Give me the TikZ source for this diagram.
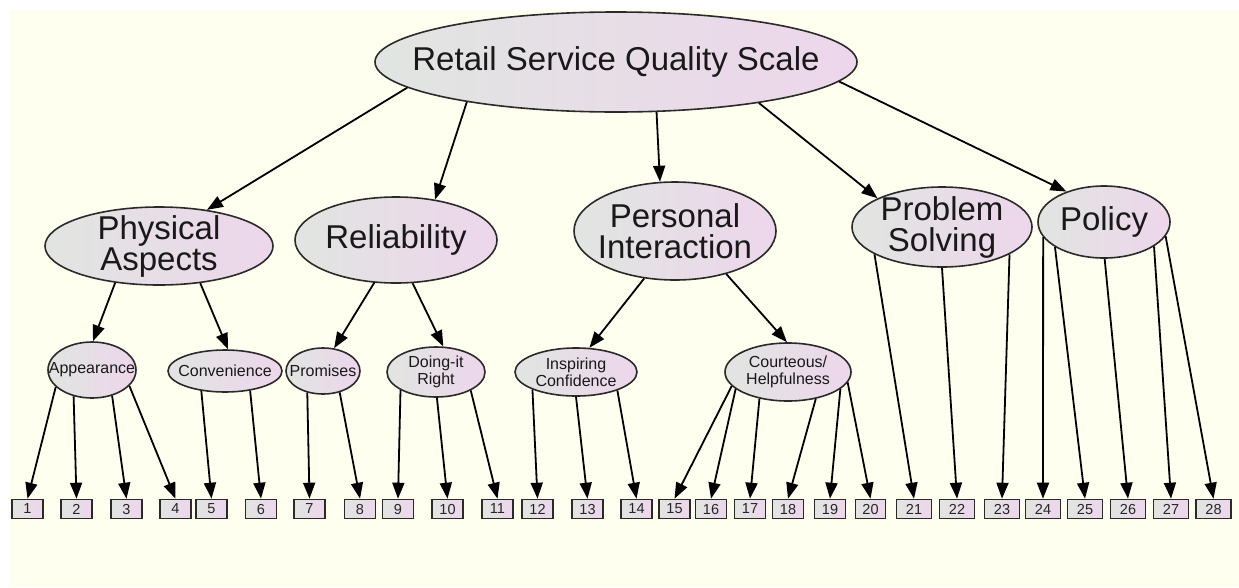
\documentclass[tikz,border=0pt]{standalone}
\usepackage{fontspec}
\setmainfont{Liberation Sans}
\usetikzlibrary{shapes.geometric,arrows.meta}
\definecolor{paper}{HTML}{FFFFF0}
\definecolor{shadeL}{HTML}{E1E5E1}
\definecolor{shadeR}{HTML}{EDD6EC}
\definecolor{edgegrey}{HTML}{2A2A2A}

\begin{document}
\begin{tikzpicture}[x=1pt,y=-1pt,
  factor/.style={ellipse, draw=edgegrey, line width=1.6pt,
    left color=shadeL, right color=shadeR, inner sep=0pt},
  bigtext/.style={font=\fontsize{33}{31}\selectfont, align=center, text=black!90},
  smalltext/.style={font=\fontsize{16}{17}\selectfont, align=center, text=black!90},
  item/.style={draw=edgegrey, line width=1.6pt, left color=shadeL, right color=shadeR,
    minimum height=19pt, inner sep=0pt, font=\fontsize{14.5}{14.5}\selectfont, text=black!85},
  link/.style={line width=1.8pt, -{Triangle[length=16pt,width=12pt]}}]

% page and canvas
\fill[white] (0,0) rectangle (1239,587);
\fill[paper] (10,10) rectangle (1239,587);
\useasboundingbox (0,0) rectangle (1239,587);

% overall scale
\node[factor, minimum width=482pt, minimum height=100pt,
  label={[bigtext]center:Retail Service Quality Scale}] (top) at (616,62) {};

% dimensions
\node[factor, minimum width=228pt, minimum height=78pt,
  label={[bigtext]center:Physical\\Aspects}] (pa) at (159,246) {};
\node[factor, minimum width=202pt, minimum height=86pt,
  label={[bigtext]center:Reliability}] (rl) at (396,240) {};
\node[factor, minimum width=202pt, minimum height=98pt,
  label={[bigtext]center:Personal\\Interaction}] (pi) at (675,231) {};
\node[factor, minimum width=180pt, minimum height=80pt,
  label={[bigtext]center:Problem\\Solving}] (ps) at (942,227) {};
\node[factor, minimum width=132pt, minimum height=72pt,
  label={[bigtext]center:Policy}] (po) at (1104,222) {};

% sub-dimensions
\node[factor, minimum width=88pt, minimum height=56pt,
  label={[smalltext]center:Appearance}] (ap) at (92,370) {};
\node[factor, minimum width=114pt, minimum height=42pt,
  label={[smalltext]center:Convenience}] (cv) at (225,371) {};
\node[factor, minimum width=74pt, minimum height=46pt,
  label={[smalltext]center:Promises}] (pr) at (323,371) {};
\node[factor, minimum width=98pt, minimum height=50pt,
  label={[smalltext]center:Doing-it\\Right}] (dr) at (436,372) {};
\node[factor, minimum width=122pt, minimum height=48pt,
  label={[smalltext]center:Inspiring\\Confidence}] (ic) at (576,372) {};
\node[factor, minimum width=126pt, minimum height=58pt,
  label={[smalltext]center:Courteous/\\Helpfulness}] (ch) at (788,372) {};

% scale items
\foreach \n/\x/\w in {1/27.5/31, 2/76.5/31, 3/126.5/31, 4/175.5/31, 5/211.5/31,
    6/261/31, 7/309.5/31, 8/360/31, 9/398/31, 10/447.5/31, 11/497.5/31,
    12/537.5/31, 13/587.5/31, 14/636.5/31, 15/674.5/31, 16/711/31, 17/750/31,
    18/788/31, 19/830/31, 20/870.5/30, 21/914/35, 22/957/35, 23/1002/35,
    24/1043/35, 25/1085/35, 26/1128/35, 27/1171/35, 28/1213.5/35}
  \node[item, minimum width=\w pt] (b\n) at (\x,509) {\n};

% scale to dimensions
\draw[link] (top.187) -- (pa.37);
\draw[link] (top.195.5) -- (rl.46);
\draw[link] (top.309) -- (pi.107);
\draw[link] (top.344.5) -- (ps.156);
\draw[link] (top.355) -- (po.141);

% dimensions to sub-dimensions
\draw[link] (pa.220) -- (ap.88);
\draw[link] (pa.318.5) -- (cv.82);
\draw[link] (rl.243) -- (pr.64.5);
\draw[link] (rl.291) -- (dr.74);
\draw[link] (pi.237) -- (ic.61);
\draw[link] (pi.320) -- (ch.92);

% factors to items
\foreach \p/\a/\b in {ap/205/1, ap/235/2, ap/308/3, ap/337/4, cv/220/5, cv/322/6,
    pr/234/7, pr/308/8, dr/207/9, dr/272/10, dr/332/11, ic/202/12, ic/270/13,
    ic/336/14, ch/194/15, ch/198/16, ch/223/17, ch/316/18, ch/342/19, ch/350/20,
    ps/202/21, ps/270/22, ps/338/23, po/194/24, po/207/25, po/271/26, po/334/27,
    po/347/28}
  \draw[link] (\p.\a) -- (b\b.north);
\end{tikzpicture}
\end{document}
